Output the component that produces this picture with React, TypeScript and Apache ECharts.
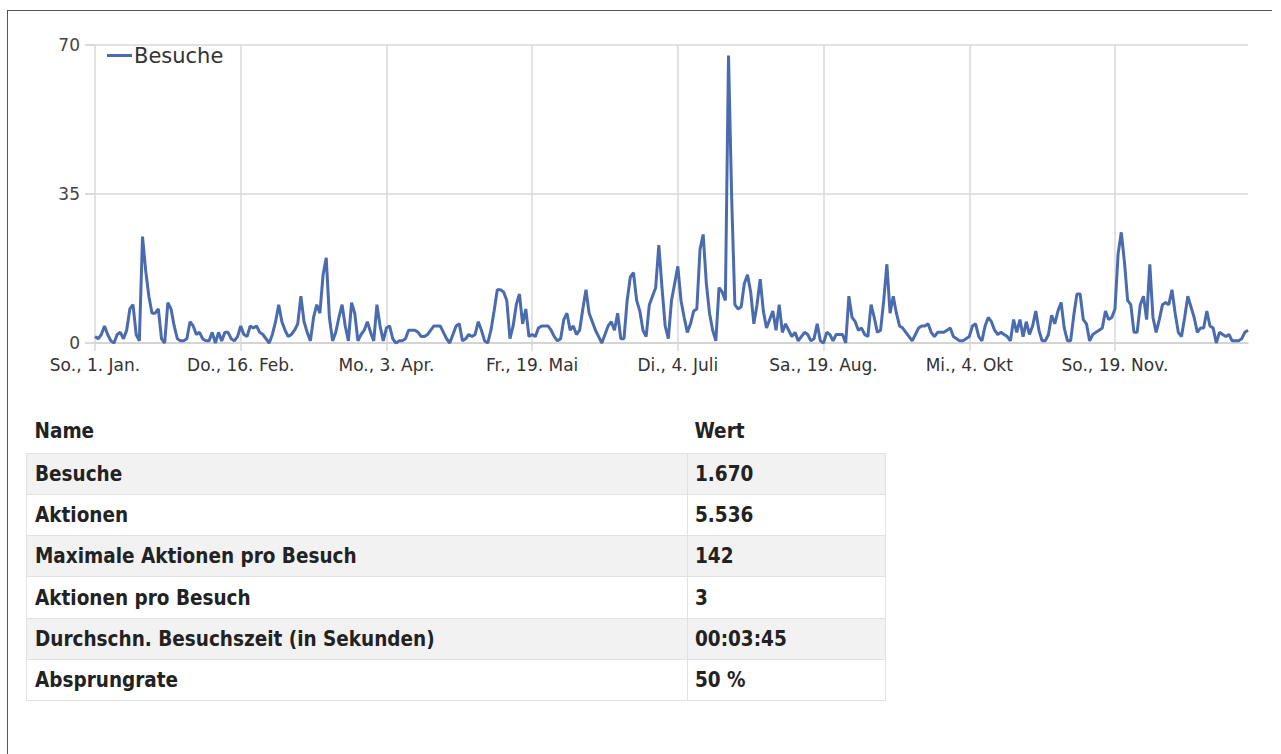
import React, { useEffect, useRef } from "react";
import * as echarts from "echarts";

// Daily visits 2017 (segments of 46 days)
const visitsSeg1 = [1.5, 1, 2, 4, 2, 0.5, 0, 2, 2.5, 1, 3, 8, 9, 2, 0.5, 25, 17, 11, 7, 7, 8, 1, 0, 9.5, 8, 4, 1, 0.5, 0.5, 1, 5, 4, 2, 2.5, 1, 0.5, 0.5, 2.5, 0, 2.5, 0.5, 2.5, 2.5, 1, 0.5, 1.5];
const visitsSeg2 = [4, 2, 1.5, 4, 3.5, 4, 2.5, 2, 1, 0, 2, 5, 9, 5, 3, 1.5, 2, 3, 4.5, 11, 5, 2.5, 0.5, 6, 9, 7, 16, 20, 6, 0.5, 2.5, 6, 9, 4, 0.5, 9.5, 7, 0.5, 2, 3, 5, 2.5, 0.5, 9, 4, 0.5];
const visitsSeg3 = [3.5, 4, 1, 0, 0.5, 0.5, 1, 3, 3, 3, 2.5, 1.5, 1.5, 2, 3, 4, 4, 4, 2.5, 1, 0, 2, 4, 4.5, 0.5, 1, 2, 1.5, 2, 5, 3, 0.5, 0, 3, 7.5, 12.5, 12.5, 12, 10, 1, 4, 9, 11.5, 4.5, 8, 1.5];
const visitsSeg4 = [2, 1.5, 3.5, 4, 4, 4, 3, 1.5, 0.5, 1, 5.5, 7, 3, 4, 2, 3, 8, 12.5, 7, 5, 3, 1.5, 0, 2, 4, 5, 3, 7, 1, 1, 10, 15.5, 16.5, 10, 7.5, 3, 1.5, 9, 11, 13, 23, 13, 4, 1, 10, 14];
const visitsSeg5 = [18, 10, 6, 2.5, 4.5, 7.5, 8, 22, 25.5, 14, 7, 3, 0.5, 13, 12, 10, 67.5, 34, 9, 8, 8.5, 14, 16, 12, 4.5, 9, 15, 7.5, 3.5, 5.5, 7.5, 3, 9, 2.5, 4.5, 3, 1.5, 2.5, 0.5, 1.5, 2.5, 2, 0.5, 1, 4.5, 0.5];
const visitsSeg6 = [0, 2.5, 2, 0.5, 2, 2, 2, 0, 11, 6, 5, 3, 3.5, 2, 1.5, 9, 6, 2.5, 3, 10, 18.5, 7, 11, 7, 4, 3.5, 2.5, 1.5, 0.5, 2, 3.5, 4, 4, 4.5, 2.5, 1.5, 2.5, 2.5, 2.5, 3, 3.5, 1.5, 1, 0.5, 0.5, 1];
const visitsSeg7 = [1.5, 4, 4.5, 1.5, 0.5, 4, 6, 5, 3, 2, 2.5, 2, 1.5, 0.5, 5.5, 2.5, 5.5, 1.5, 5, 2, 4, 7.5, 3, 0.5, 0.5, 2, 6.5, 4.5, 7.5, 9.5, 3.5, 0.5, 0.5, 6.5, 11.5, 11.5, 5.5, 4.5, 0.5, 2, 2.5, 3, 3.5, 7.5, 5.5, 6];
const visitsSeg8 = [8, 21, 26, 19, 10, 9, 2.5, 2.5, 9, 11, 5.5, 18.5, 6, 2.5, 5.5, 9, 9.5, 9, 12.5, 7, 2.5, 1.5, 6, 11, 8.5, 6, 2.5, 3.5, 3.5, 7.5, 4, 3.5, 0, 2.5, 2, 1.5, 2, 0.5, 0.5, 0.5, 1, 2.5, 3];

const xTickLabels = ["So., 1. Jan.", "Do., 16. Feb.", "Mo., 3. Apr.", "Fr., 19. Mai", "Di., 4. Juli", "Sa., 19. Aug.", "Mi., 4. Okt", "So., 19. Nov."];
const yMin = 0;
const yMax = 70;
const yStep = 35;
const seriesName = "Besuche";

const tableHeader = ["Name", "Wert"];
const tableNames = ["Besuche", "Aktionen", "Maximale Aktionen pro Besuch", "Aktionen pro Besuch", "Durchschn. Besuchszeit (in Sekunden)", "Absprungrate"];
const tableValues = ["1.670", "5.536", "142", "3", "00:03:45", "50 %"];

const visits = [
  ...visitsSeg1, ...visitsSeg2, ...visitsSeg3, ...visitsSeg4,
  ...visitsSeg5, ...visitsSeg6, ...visitsSeg7, ...visitsSeg8,
];
const pad = (n: number) => (n < 10 ? "0" + n : "" + n);
const categories = visits.map((_, i) => {
  const d = new Date(2017, 0, 1 + i);
  return `${d.getFullYear()}-${pad(d.getMonth() + 1)}-${pad(d.getDate())}`;
});

const CHART_FONT = "'DejaVu Sans', sans-serif";
const TABLE_FONT = "'DejaVu Sans Condensed', 'DejaVu Sans', sans-serif";

function Chart() {
  const ref = useRef<HTMLDivElement>(null);
  useEffect(() => {
    if (!ref.current) return;
    const chart = echarts.init(ref.current, undefined, { renderer: "svg" });
    chart.setOption({
      animation: false,
      textStyle: { fontFamily: CHART_FONT },
      grid: { left: 95, top: 45, right: 33, bottom: 57, containLabel: false },
      legend: {
        show: true,
        left: 102,
        top: 40,
        icon: "rect",
        itemWidth: 25,
        itemHeight: 3,
        itemGap: 4,
        data: [seriesName],
        textStyle: { fontSize: 21, color: "#333", fontFamily: CHART_FONT, padding: [0, 0, 0, -3] },
      },
      xAxis: {
        type: "category",
        data: categories,
        boundaryGap: false,
        axisLine: { show: true, lineStyle: { color: "#cfcfcf", width: 1.5 } },
        axisTick: { show: true, interval: 45, length: 8, lineStyle: { color: "#d8d8d8", width: 1.5 } },
        axisLabel: {
          interval: 45,
          fontSize: 17,
          color: "#333",
          margin: 13,
          fontFamily: CHART_FONT,
          formatter: (_v: string, i: number) => xTickLabels[Math.round(i / 46)] ?? "",
        },
        splitLine: { show: true, interval: 45, lineStyle: { color: "#d8d8d8", width: 1.5 } },
      },
      yAxis: {
        type: "value",
        min: yMin,
        max: yMax,
        interval: yStep,
        axisLine: { show: false },
        axisTick: { show: true, length: 10, lineStyle: { color: "#cfcfcf", width: 1.5 } },
        axisLabel: { fontSize: 17, color: "#444", margin: 15, fontFamily: CHART_FONT },
        splitLine: { show: true, lineStyle: { color: "#d8d8d8", width: 1.5 } },
      },
      series: [
        {
          name: seriesName,
          type: "line",
          data: visits,
          showSymbol: false,
          symbol: "none",
          lineStyle: { width: 3, color: "#4a6cae" },
          itemStyle: { color: "#4a6cae" },
        },
      ],
    });
    return () => chart.dispose();
  }, []);
  return <div ref={ref} style={{ position: "absolute", left: 0, top: 0, width: 1281, height: 400 }} />;
}

export default function App() {
  const cellFont: React.CSSProperties = {
    fontFamily: TABLE_FONT,
    fontWeight: 600,
    fontSize: 20.5,
    color: "#222",
  };
  return (
    <div style={{ position: "absolute", left: 0, top: 0, width: 1280, height: 754, overflow: "hidden", background: "#fff" }}>
      <div
        style={{
          position: "absolute",
          left: 7,
          top: 10,
          width: 1265,
          height: 744,
          borderTop: "1.5px solid #555",
          borderLeft: "1.5px solid #555",
          boxSizing: "border-box",
        }}
      />
      <Chart />
      <table
        style={{
          position: "absolute",
          left: 26,
          top: 410,
          width: 860,
          borderCollapse: "collapse",
          ...cellFont,
        }}
      >
        <thead>
          <tr style={{ height: 43 }}>
            <th style={{ textAlign: "left", padding: "0 0 0 8px", width: 653, fontWeight: 600 }}>{tableHeader[0]}</th>
            <th style={{ textAlign: "left", padding: "0 0 0 7px", fontWeight: 600 }}>{tableHeader[1]}</th>
          </tr>
        </thead>
        <tbody>
          {tableNames.map((n, i) => (
            <tr key={n} style={{ height: 41.3, background: i % 2 === 0 ? "#f2f2f2" : "#fff" }}>
              <td style={{ border: "1.5px solid #e2e2e2", padding: "0 0 0 8px" }}>{n}</td>
              <td style={{ border: "1.5px solid #e2e2e2", padding: "0 0 0 7px" }}>{tableValues[i]}</td>
            </tr>
          ))}
        </tbody>
      </table>
    </div>
  );
}
